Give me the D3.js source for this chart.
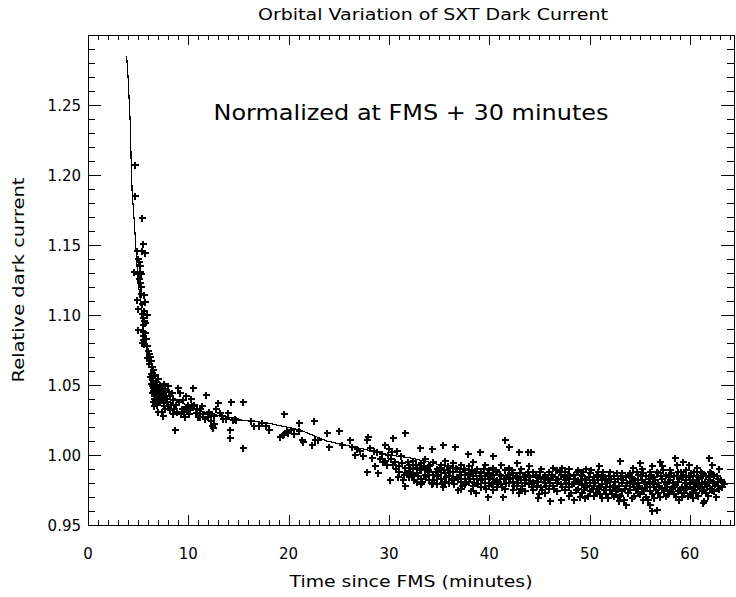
<!DOCTYPE html>
<html>
<head>
<meta charset="utf-8">
<script src="https://cdn.jsdelivr.net/npm/d3@7"></script>
<style>
  body { margin: 0; background: #fff; }
  svg { display: block; }
  text { font-family: "DejaVu Sans", sans-serif; fill: #000; }
</style>
</head>
<body>
<div id="chart"></div>
<script>
// axis ticks
var timeTicks = [0, 10, 20, 30, 40, 50, 60];
var valueTicks = [0.95, 1.00, 1.05, 1.10, 1.15, 1.20, 1.25];

// fitted curve (time in minutes, relative dark current)
var fitTime  = [3.85, 4.0, 4.2, 4.3, 4.4, 4.6, 4.8, 5.0, 5.3, 5.5, 5.8, 6.0, 6.5, 7.2, 8.5, 10.2, 11.9, 15.2, 17.8, 21.1, 23.8, 27.0, 30.0, 32.1, 34.5, 36.8, 40.0, 45.0, 50.0, 55.0, 60.0, 63.3];
var fitValue = [1.285, 1.269, 1.239, 1.211, 1.188, 1.168, 1.145, 1.123, 1.106, 1.091, 1.077, 1.068, 1.062, 1.051, 1.041, 1.034, 1.030, 1.025, 1.023, 1.018, 1.010, 1.005, 1.000, 0.998, 0.994, 0.990, 0.986, 0.981, 0.978, 0.977, 0.977, 0.978];

// measurements [minutes, relative dark current]
var pointsSteep = [
  [4.7,1.207],[4.7,1.185],[5.4,1.169],[5.5,1.151],[4.9,1.146],[5.4,1.146],[5.7,1.144],[5.0,1.140],[5.1,1.138],[5.2,1.135],
  [4.6,1.131],[5.0,1.129],[5.3,1.129],[5.1,1.126],[5.2,1.123],[4.85,1.111],[5.7,1.109],[5.0,1.104],[5.35,1.101],[5.9,1.100],
  [5.5,1.098],[5.6,1.096],[5.7,1.094],[5.0,1.089],[5.45,1.088],[5.7,1.087],[5.5,1.085],[5.35,1.080],[5.6,1.079],[5.5,1.082],
  [6.0,1.074],[6.1,1.072],[6.2,1.070],[6.25,1.067],[6.4,1.063],[6.5,1.061],[6.7,1.057],
  [5.15,1.131],[5.25,1.120],[5.3,1.115],[5.4,1.108],[5.55,1.103],[5.45,1.093],[5.75,1.083],[5.85,1.078],[5.9,1.069],[6.05,1.065],
  [5.6,1.114]
];

var pointsKnee = [
  [6.3,1.058],[6.4,1.055],[6.5,1.053],[6.3,1.051],[6.6,1.050],[6.8,1.052],[7.0,1.054],[7.2,1.050],[6.5,1.048],[6.7,1.046],
  [6.9,1.048],[7.1,1.046],[7.4,1.048],[7.6,1.051],[6.4,1.044],[6.6,1.042],[6.8,1.040],[7.0,1.043],[7.3,1.041],[7.5,1.044],
  [7.8,1.046],[8.0,1.049],[6.5,1.038],[6.9,1.036],[7.2,1.038],[7.6,1.037],[7.9,1.040],[8.2,1.042],[8.5,1.039],[6.6,1.035],
  [7.0,1.031],[7.35,1.031],[7.7,1.033],[8.0,1.035],[8.3,1.036],[8.6,1.033],[8.8,1.036],[9.0,1.048],[9.2,1.044],[9.1,1.038],
  [9.4,1.033],[9.3,1.029],[9.6,1.031],[9.8,1.034],[9.8,1.042],[10.0,1.036],[10.2,1.032],[10.5,1.048],[10.3,1.040],[10.6,1.036],
  [10.8,1.030],[11.0,1.027],[11.2,1.033],[11.2,1.027],[11.5,1.029],[11.8,1.043],[12.0,1.027],[12.1,1.031],[12.3,1.028],[12.3,1.024],
  [12.6,1.028],[12.4,1.021],[12.5,1.019],[12.6,1.022],[13.0,1.037],[13.2,1.030],[13.4,1.028],[13.5,1.026],[14.3,1.038],[14.5,1.025],
  [14.7,1.026],[14.8,1.025],[14.2,1.018],[14.2,1.012],[15.5,1.038],[15.5,1.005],[16.2,1.024],[16.5,1.021],[17.0,1.021],[17.7,1.021],
  [8.7,1.018],[6.8,1.037],[7.5,1.028],
  [6.2,1.056],[6.35,1.049],[6.45,1.046],[6.55,1.040],[6.75,1.044],[6.85,1.049],[6.95,1.041],[7.05,1.038],[7.15,1.043],[7.25,1.047],
  [7.45,1.039],[7.55,1.035],[7.65,1.042],[7.85,1.038],[8.1,1.045],[8.15,1.032],[8.4,1.044],[8.45,1.029],[8.9,1.031],[9.5,1.039],
  [9.7,1.027],[10.1,1.029],[10.4,1.035],[10.9,1.033],[11.4,1.035],[11.7,1.026],[12.8,1.033],[13.8,1.026],[14.0,1.030]
];

var pointsSlope = [
  [17.3,1.023],[18.0,1.018],[19.5,1.029],[19.1,1.013],[19.5,1.015],[19.8,1.017],[19.9,1.016],[19.4,1.014],[20.2,1.018],[20.5,1.015],
  [21.0,1.017],[21.0,1.023],[21.3,1.011],[21.4,1.009],[22.5,1.024],[22.6,1.011],[22.9,1.011],[22.3,1.007],[23.8,1.016],[25.0,1.017],
  [24.0,1.006],[25.3,1.007],[26.1,1.011],[26.3,1.006],[26.8,1.004],[27.1,1.003],[27.8,1.011],[27.9,1.013],[26.6,1.000],[27.4,0.999],
  [28.1,1.005],[28.5,1.003],[28.8,1.002],[28.3,0.998],[27.8,0.988],[28.9,0.987],[29.1,0.997],[29.4,0.995],[29.6,0.996],[29.6,1.007],
  [29.9,1.000],[30.0,1.004],[30.3,1.002],[30.1,0.982],[30.4,1.012],[30.4,0.993],[30.7,0.990],[30.8,1.003],[31.0,0.992],[31.2,0.999],
  [31.4,0.982],[31.5,0.986],[31.6,1.016],[31.6,0.991],[31.6,0.978],[31.8,0.987],[31.9,0.995],
  [29.8,0.993],[30.2,0.997],[30.6,0.995],[31.0,0.988],[31.3,0.994],[30.9,0.984],[29.3,1.001],[28.6,0.992]
];

var pointsBand = [
  [32.0,0.993],[32.0,0.988],[32.0,0.984],[32.4,0.996],[32.4,0.990],[32.4,0.985],[32.8,0.991],[32.8,0.987],[32.8,0.981],
  [33.2,0.994],[33.2,0.989],[33.2,0.983],[33.2,0.979],[33.6,0.997],[33.6,0.991],[33.6,0.986],[34.0,0.992],[34.0,0.988],[34.0,0.982],
  [34.4,0.995],[34.4,0.986],[34.4,0.980],[34.8,0.990],[34.8,0.985],[34.8,0.979],[35.2,0.993],[35.2,0.989],[35.2,0.983],
  [35.6,0.996],[35.6,0.987],[35.6,0.981],[36.0,0.991],[36.0,0.985],[36.0,0.980],[36.4,0.994],[36.4,0.988],[36.4,0.983],
  [36.8,0.990],[36.8,0.984],[37.2,0.993],[37.2,0.986],[37.2,0.981],[37.2,0.976],[37.6,0.989],[37.6,0.983],[37.6,0.979],
  [38.0,0.992],[38.0,0.987],[38.0,0.981],[38.4,0.995],[38.4,0.985],[38.4,0.978],[38.8,0.990],[38.8,0.983],
  [39.2,0.988],[39.2,0.982],[39.2,0.977],[39.6,0.993],[39.6,0.985],[39.6,0.980],[40.0,0.989],[40.0,0.983],[40.0,0.978],
  [40.4,0.991],[40.4,0.986],[40.4,0.980],[40.4,0.975],[40.8,0.988],[40.8,0.982],[40.8,0.977],[41.2,0.993],[41.2,0.985],[41.2,0.979],
  [41.6,0.989],[41.6,0.983],[41.6,0.976],[42.0,0.991],[42.0,0.986],[42.0,0.980],[42.4,0.987],[42.4,0.981],[42.4,0.975],
  [42.8,0.994],[42.8,0.984],[42.8,0.978],[43.2,0.990],[43.2,0.982],[43.2,0.976],[43.6,0.986],[43.6,0.980],[43.6,0.974],
  [44.0,0.992],[44.0,0.985],[44.0,0.979],[44.4,0.988],[44.4,0.981],[44.4,0.975],[44.8,0.984],[44.8,0.978],
  [45.2,0.990],[45.2,0.983],[45.2,0.977],[45.6,0.986],[45.6,0.980],[45.6,0.973],[46.0,0.988],[46.0,0.982],[46.0,0.976],
  [46.4,0.991],[46.4,0.984],[46.4,0.978],[46.8,0.989],[46.8,0.980],[46.8,0.974],[47.2,0.986],[47.2,0.979],[47.2,0.968],
  [47.6,0.988],[47.6,0.982],[47.6,0.975],
  [33.1,1.005],[34.3,1.004],[35.4,1.007],[36.6,1.006],[37.9,1.001],[39.1,1.002],[40.35,0.999],[41.6,1.011],[42.0,1.006],
  [43.0,1.002],[43.9,1.002],[44.2,1.002],[35.4,0.977],[36.9,0.975],[38.7,0.973],[39.9,0.970],[41.4,0.970],[44.9,0.969],
  [46.1,0.967],[46.7,0.989],[45.0,0.972],[43.0,0.973],[38.2,0.974],[47.3,0.991]
];

var pointsBandFill = [
  [32.1,0.991],[32.3,0.986],[32.7,0.993],[32.5,0.982],[33.1,0.990],[32.9,0.985],[33.5,0.992],[33.3,0.981],[33.9,0.989],[33.7,0.984],
  [34.1,0.993],[34.3,0.979],[34.7,0.988],[34.5,0.982],[35.1,0.991],[34.9,0.986],[35.5,0.989],[35.3,0.980],[35.9,0.992],[35.7,0.984],
  [36.1,0.988],[36.3,0.982],[36.7,0.991],[36.5,0.979],[37.1,0.988],[36.9,0.983],[37.5,0.990],[37.3,0.978],[37.9,0.986],[37.7,0.981],
  [38.3,0.989],[38.1,0.983],[38.7,0.987],[38.5,0.980],[39.1,0.985],[38.9,0.979],[39.5,0.990],[39.3,0.983],[39.9,0.987],[39.7,0.976],
  [40.1,0.984],[40.3,0.979],[40.7,0.989],[40.5,0.983],[41.1,0.986],[40.9,0.981],[41.5,0.983],[41.3,0.977],[41.9,0.986],[41.7,0.980],
  [42.3,0.989],[42.1,0.983],[42.7,0.985],[42.5,0.978],[43.1,0.987],[42.9,0.980],[43.5,0.984],[43.3,0.978],[43.9,0.988],[43.7,0.982],
  [44.1,0.984],[44.3,0.977],[44.7,0.986],[44.5,0.980],[45.1,0.988],[44.9,0.981],[45.5,0.984],[45.3,0.975],[45.9,0.983],[45.7,0.978],
  [46.3,0.986],[46.1,0.980],[46.7,0.982],[46.5,0.976],[47.1,0.988],[46.9,0.983],[47.5,0.984],[47.3,0.977],[47.9,0.986],[47.7,0.980]
];

var pointsFloor = [
  [48.0,0.990],[48.0,0.983],[48.0,0.977],[48.0,0.971],[48.4,0.986],[48.4,0.980],[48.4,0.968],[48.8,0.989],[48.8,0.982],[48.8,0.976],
  [49.2,0.985],[49.2,0.979],[49.2,0.973],[49.6,0.990],[49.6,0.983],[49.6,0.977],[50.0,0.987],[50.0,0.980],[50.0,0.974],
  [50.4,0.984],[50.4,0.978],[50.4,0.971],[50.8,0.988],[50.8,0.982],[50.8,0.976],[51.2,0.986],[51.2,0.979],[51.2,0.969],
  [51.6,0.983],[51.6,0.977],[51.6,0.972],[52.0,0.988],[52.0,0.981],[52.0,0.975],[52.4,0.985],[52.4,0.978],[52.4,0.971],
  [52.8,0.983],[52.8,0.976],[52.8,0.970],[53.0,0.996],[53.2,0.987],[53.2,0.980],[53.2,0.974],[53.6,0.984],[53.6,0.978],[53.6,0.964],
  [54.0,0.987],[54.0,0.981],[54.0,0.975],[54.4,0.983],[54.4,0.977],[54.4,0.971],[54.8,0.986],[54.8,0.980],[54.8,0.973],
  [55.0,0.994],[55.2,0.990],[55.2,0.982],[55.2,0.976],[55.6,0.985],[55.6,0.979],[55.6,0.970],[56.0,0.988],[56.0,0.981],
  [56.0,0.974],[56.0,0.964],[56.2,0.992],[56.2,0.960],[56.4,0.984],[56.4,0.977],[56.4,0.969],[56.7,0.961],[56.8,0.987],
  [56.8,0.980],[56.8,0.973],[57.0,0.995],[57.2,0.992],[57.2,0.983],[57.2,0.976],[57.6,0.986],[57.6,0.979],[57.6,0.971],
  [58.0,0.989],[58.0,0.982],[58.0,0.975],[58.4,0.985],[58.4,0.978],[58.4,0.972],[58.5,0.998],[58.7,0.993],[58.8,0.988],
  [58.8,0.981],[58.8,0.974],[59.2,0.984],[59.2,0.977],[59.2,0.970],[59.3,0.995],[59.6,0.989],[59.6,0.982],[59.6,0.976],
  [60.0,0.985],[60.0,0.979],[60.0,0.972],[60.4,0.988],[60.4,0.981],[60.4,0.975],[60.7,0.991],[60.8,0.984],[60.8,0.978],
  [60.8,0.971],[61.2,0.987],[61.2,0.980],[61.2,0.974],[61.3,0.966],[61.4,0.967],[61.6,0.985],[61.6,0.979],[61.6,0.973],
  [61.9,0.998],[62.0,0.988],[62.0,0.982],[62.0,0.976],[62.2,0.993],[62.4,0.986],[62.4,0.980],[62.4,0.974],[62.8,0.983],
  [62.8,0.978],[63.2,0.981],[63.2,0.977],[63.4,0.979],
  [49.5,0.969],[52.9,0.967],[55.3,0.968],[58.9,0.968],[60.3,0.969],[62.6,0.970],[50.9,0.992],[54.3,0.991],[59.9,0.993],[62.9,0.990]
];

var pointsFloorFill = [
  [48.1,0.985],[48.3,0.979],[48.2,0.973],[48.7,0.988],[48.5,0.983],[48.6,0.975],[49.1,0.986],[48.9,0.981],[49.0,0.970],[49.3,0.988],
  [49.5,0.982],[49.4,0.975],[49.9,0.984],[49.7,0.978],[49.8,0.971],[50.1,0.989],[50.3,0.982],[50.2,0.976],[50.7,0.986],[50.5,0.980],
  [50.6,0.973],[51.1,0.984],[50.9,0.977],[51.0,0.972],[51.3,0.988],[51.5,0.982],[51.4,0.975],[51.9,0.985],[51.7,0.980],[51.8,0.969],
  [52.1,0.983],[52.3,0.977],[52.2,0.972],[52.7,0.987],[52.5,0.981],[52.6,0.974],[53.1,0.985],[52.9,0.978],[53.0,0.971],[53.3,0.982],
  [53.5,0.976],[53.4,0.968],[53.9,0.986],[53.7,0.980],[53.8,0.973],[54.1,0.984],[54.3,0.979],[54.2,0.969],[54.7,0.988],[54.5,0.982],
  [54.6,0.976],[55.1,0.985],[54.9,0.978],[55.0,0.972],[55.3,0.987],[55.5,0.981],[55.4,0.974],[55.9,0.983],[55.7,0.977],[55.8,0.968],
  [56.1,0.986],[56.3,0.979],[56.2,0.972],[56.7,0.988],[56.5,0.982],[56.6,0.975],[57.1,0.985],[56.9,0.978],[57.0,0.970],[57.3,0.989],
  [57.5,0.981],[57.4,0.974],[57.9,0.984],[57.7,0.977],[57.8,0.972],[58.1,0.987],[58.3,0.980],[58.2,0.976],[58.7,0.985],[58.5,0.979],
  [58.6,0.970],[59.1,0.988],[58.9,0.983],[59.0,0.975],[59.3,0.986],[59.5,0.980],[59.4,0.973],[59.9,0.984],[59.7,0.977],[59.8,0.971],
  [60.1,0.987],[60.3,0.982],[60.2,0.976],[60.7,0.985],[60.5,0.979],[60.6,0.973],[61.1,0.988],[60.9,0.983],[61.0,0.977],[61.3,0.986],
  [61.5,0.981],[61.4,0.975],[61.9,0.984],[61.7,0.978],[61.8,0.971],[62.1,0.987],[62.3,0.981],[62.2,0.975],[62.7,0.985],[62.5,0.979],
  [63.1,0.982],[62.9,0.976]
];

var titleText = "Orbital Variation of SXT Dark Current";
var noteText = "Normalized at FMS + 30 minutes";
var xLabelText = "Time since FMS (minutes)";
var yLabelText = "Relative dark current";

var W = 736, H = 597;
var margin = {top: 35, right: 2, bottom: 72, left: 88};
var x0 = margin.left, x1 = W - margin.right,
    y0 = H - margin.bottom, y1 = margin.top;

var xScale = d3.scaleLinear().domain([0, 64.4]).range([x0, x1]);
var yScale = d3.scaleLinear().domain([0.95, 1.30]).range([y0, y1]);

var svg = d3.select("#chart").append("svg")
    .attr("width", W)
    .attr("height", H)
    .attr("shape-rendering", "crispEdges");

svg.append("rect").attr("width", W).attr("height", H).attr("fill", "#fff");

var xMinor = d3.range(0, 65, 1);
var yMinor = d3.range(95, 131, 1).map(function(d) { return d / 100; });

function tickAxis(axis, pos, values, size) {
  var g = svg.append("g")
      .attr("transform", pos)
      .call(axis.tickValues(values).tickSize(size).tickFormat(""));
  g.select(".domain").remove();
  g.selectAll(".tick line").attr("stroke", "#000");
  return g;
}

// bottom / top / left / right ticks, all inside the frame
tickAxis(d3.axisBottom(xScale), "translate(0," + y0 + ")", xMinor, -5);
tickAxis(d3.axisBottom(xScale), "translate(0," + y0 + ")", timeTicks, -10);
tickAxis(d3.axisTop(xScale), "translate(0," + y1 + ")", xMinor, -5);
tickAxis(d3.axisTop(xScale), "translate(0," + y1 + ")", timeTicks, -10);
tickAxis(d3.axisLeft(yScale), "translate(" + x0 + ",0)", yMinor, -7);
tickAxis(d3.axisLeft(yScale), "translate(" + x0 + ",0)", valueTicks, -13);
tickAxis(d3.axisRight(yScale), "translate(" + x1 + ",0)", yMinor, -7);
tickAxis(d3.axisRight(yScale), "translate(" + x1 + ",0)", valueTicks, -13);

// frame
svg.append("rect")
    .attr("x", x0).attr("y", y1)
    .attr("width", x1 - x0).attr("height", y0 - y1)
    .attr("fill", "none").attr("stroke", "#000");

// tick labels
svg.selectAll(".xlab").data(timeTicks).enter().append("text")
    .attr("x", function(d) { return xScale(d); })
    .attr("y", y0 + 34)
    .attr("text-anchor", "middle")
    .style("font-size", "15px")
    .text(function(d) { return d3.format("d")(d); });

svg.selectAll(".ylab").data(valueTicks).enter().append("text")
    .attr("x", x0 - 7)
    .attr("y", function(d) { return yScale(d) + 6; })
    .attr("text-anchor", "end")
    .style("font-size", "15px")
    .text(function(d) { return d3.format(".2f")(d); });

// titles
svg.append("text")
    .attr("x", 433).attr("y", 20)
    .attr("text-anchor", "middle")
    .style("font-size", "16px")
    .attr("textLength", 350).attr("lengthAdjust", "spacingAndGlyphs")
    .text(titleText);

svg.append("text")
    .attr("x", (x0 + x1) / 2).attr("y", y0 + 62)
    .attr("text-anchor", "middle")
    .style("font-size", "15px")
    .attr("textLength", 243).attr("lengthAdjust", "spacingAndGlyphs")
    .text(xLabelText);

svg.append("text")
    .attr("transform", "translate(24," + ((y0 + y1) / 2) + ") rotate(-90)")
    .attr("text-anchor", "middle")
    .style("font-size", "15px")
    .attr("textLength", 205).attr("lengthAdjust", "spacingAndGlyphs")
    .text(yLabelText);

svg.append("text")
    .attr("x", (x0 + x1) / 2).attr("y", 120)
    .attr("text-anchor", "middle")
    .style("font-size", "21px")
    .attr("textLength", 395).attr("lengthAdjust", "spacingAndGlyphs")
    .text(noteText);

// fitted curve
var fitData = fitTime.map(function(t, i) { return [t, fitValue[i]]; });
var line = d3.line()
    .x(function(d) { return xScale(d[0]); })
    .y(function(d) { return yScale(d[1]); });

svg.append("path")
    .datum(fitData)
    .attr("d", line)
    .attr("fill", "none")
    .attr("stroke", "#000")
    .attr("stroke-width", 1.2);

// plus markers
var allPoints = pointsSteep.concat(pointsKnee, pointsSlope, pointsBand, pointsBandFill, pointsFloor, pointsFloorFill);
svg.append("g").selectAll("path.pt")
    .data(allPoints)
    .enter().append("path")
    .attr("class", "pt")
    .attr("transform", function(d) {
      return "translate(" + Math.round(xScale(d[0])) + "," + Math.round(yScale(d[1])) + ")";
    })
    .attr("d", "M-3,0H4M0,-3V4")
    .attr("stroke", "#000")
    .attr("stroke-width", 2);
</script>
</body>
</html>
